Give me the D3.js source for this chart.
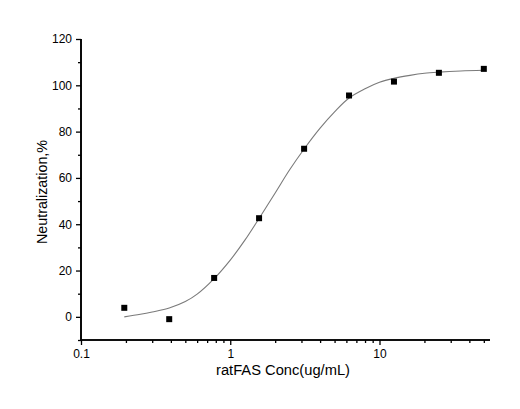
<!DOCTYPE html>
<html>
<head>
<meta charset="utf-8">
<script src="https://cdn.jsdelivr.net/npm/d3@7"></script>
<style>
  body { margin: 0; background: #fff; }
  text { font-family: "Liberation Sans", Arial, sans-serif; }
</style>
</head>
<body>
<div id="graph"></div>
<script>
// measured points
var conc = [0.195, 0.39, 0.78, 1.56, 3.125, 6.25, 12.5, 25, 50];
var neutralization = [3.9, -1.0, 16.8, 42.6, 72.6, 95.6, 101.6, 105.4, 107.1];

// fitted curve
var curveConc = [0.195, 0.25, 0.3, 0.39, 0.5, 0.6, 0.78, 1.0, 1.25, 1.56, 2.0, 2.5, 3.125, 4.0, 5.0, 6.25, 8.0, 10, 12.5, 16, 20, 25, 35, 50];
var curveVal = [0, 1.1, 2.1, 3.8, 6.6, 9.8, 16.5, 24.5, 33, 42.5, 53.5, 63.5, 72.5, 81.5, 88.5, 94.5, 98.5, 101.3, 103, 104.3, 105.2, 105.7, 106.2, 106.5];

var xMajor = [0.1, 1, 10];
var xMinor = [0.2, 0.3, 0.4, 0.5, 0.6, 0.7, 0.8, 0.9, 2, 3, 4, 5, 6, 7, 8, 9, 20, 30, 40, 50];
var yMajor = [0, 20, 40, 60, 80, 100, 120];
var yMinor = [-10, 10, 30, 50, 70, 90, 110];

var width = 520, height = 409;

var svg = d3.select("#graph").append("svg")
  .attr("width", width)
  .attr("height", height);

var x = d3.scaleLog().domain([0.1, 55]).range([81, 490]);
var y = d3.scaleLinear().domain([-10, 120]).range([340, 39]);

// curve
var line = d3.line()
  .x(function(d) { return x(d[0]); })
  .y(function(d) { return y(d[1]); })
  .curve(d3.curveCatmullRom.alpha(0.5));

svg.append("path")
  .datum(d3.zip(curveConc, curveVal))
  .attr("d", line)
  .attr("fill", "none")
  .attr("stroke", "#7a7a7a")
  .attr("stroke-width", 1.1);

// x axis
var xAxis = svg.append("g").attr("transform", "translate(0,340)");
xAxis.call(d3.axisBottom(x).tickValues(xMajor).tickSize(5).tickPadding(4)
  .tickFormat(function(d) { return d < 1 ? "0.1" : d3.format("d")(d); }));
xAxis.append("g").call(d3.axisBottom(x).tickValues(xMinor).tickSize(3).tickFormat(""));
xAxis.selectAll(".domain").attr("d", "M" + x.range()[0] + ",0H" + x.range()[1]);

// y axis
var yAxis = svg.append("g").attr("transform", "translate(81,0)");
yAxis.call(d3.axisLeft(y).tickValues(yMajor).tickSize(5).tickPadding(4));
yAxis.append("g").call(d3.axisLeft(y).tickValues(yMinor).tickSize(3).tickFormat(""));
yAxis.selectAll(".domain").attr("d", "M0," + y.range()[0] + "V" + y.range()[1]);

svg.selectAll(".domain").attr("stroke", "#000").attr("stroke-width", 1.6);
svg.selectAll(".tick line").attr("stroke", "#000").attr("stroke-width", 1.3);
svg.selectAll(".tick text").attr("font-size", 12).attr("fill", "#000")
  .attr("font-family", "Liberation Sans, Arial, sans-serif");

// points
svg.selectAll(".pt")
  .data(d3.zip(conc, neutralization))
  .enter()
  .append("rect")
  .attr("class", "pt")
  .attr("x", function(d) { return x(d[0]) - 3; })
  .attr("y", function(d) { return y(d[1]) - 3; })
  .attr("width", 6)
  .attr("height", 6)
  .attr("fill", "#000");

// titles
svg.append("text")
  .attr("x", 283)
  .attr("y", 375)
  .attr("text-anchor", "middle")
  .attr("font-size", 14)
  .attr("textLength", 134)
  .attr("lengthAdjust", "spacingAndGlyphs")
  .text("ratFAS Conc(ug/mL)");

svg.append("text")
  .attr("transform", "translate(47,192) rotate(-90)")
  .attr("text-anchor", "middle")
  .attr("font-size", 14)
  .attr("textLength", 104)
  .attr("lengthAdjust", "spacingAndGlyphs")
  .text("Neutralization,%");
</script>
</body>
</html>
